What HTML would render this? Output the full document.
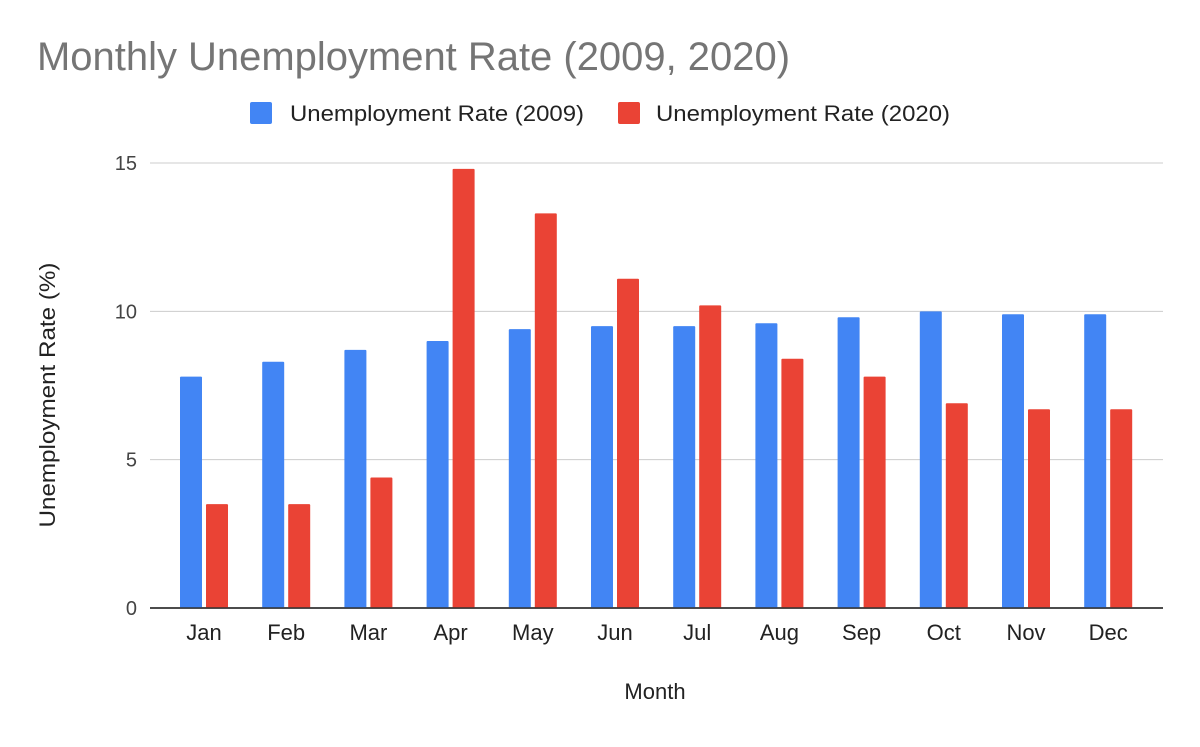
<!DOCTYPE html>
<html><head><meta charset="utf-8"><style>
body{margin:0;background:#fff;font-family:"Liberation Sans",Arial,sans-serif}
svg text{font-family:"Liberation Sans",Arial,sans-serif}
</style></head><body>
<svg id="c" width="1200" height="742" viewBox="0 0 1200 742">
<rect width="1200" height="742" fill="#fff"/>
<text x="37" y="70" font-size="40" textLength="753" lengthAdjust="spacingAndGlyphs" fill="#757575">Monthly Unemployment Rate (2009, 2020)</text>
<g>
<rect x="250" y="102" width="22" height="22" rx="2" fill="#4285f4"/>
<text x="290" y="121" font-size="22" textLength="294" lengthAdjust="spacingAndGlyphs" fill="#222">Unemployment Rate (2009)</text>
<rect x="618" y="102" width="22" height="22" rx="2" fill="#ea4335"/>
<text x="656" y="121" font-size="22" textLength="294" lengthAdjust="spacingAndGlyphs" fill="#222">Unemployment Rate (2020)</text>
</g>
<g id="grid"></g><g id="bars"></g><g id="xl"></g>
<text x="655" y="699" font-size="22" text-anchor="middle" fill="#222">Month</text>
<text transform="translate(55,395) rotate(-90)" font-size="22" textLength="265" lengthAdjust="spacingAndGlyphs" text-anchor="middle" fill="#222">Unemployment Rate (%)</text>
</svg>
<script>
const months=["Jan","Feb","Mar","Apr","May","Jun","Jul","Aug","Sep","Oct","Nov","Dec"];
const rate2009=[7.8,8.3,8.7,9.0,9.4,9.5,9.5,9.6,9.8,10.0,9.9,9.9];
const rate2020=[3.5,3.5,4.4,14.8,13.3,11.1,10.2,8.4,7.8,6.9,6.7,6.7];
const yTicks=[0,5,10,15];
const NS="http://www.w3.org/2000/svg";
const y0=608,y15=163,yMax=15;
function yS(v){return y0-(v/yMax)*(y0-y15);}
const band=82.2,firstC=204,bw=22,gap=4;
function xC(i){return firstC+i*band;}
function mk(t,a,p){const e=document.createElementNS(NS,t);for(const k in a)e.setAttribute(k,a[k]);p.appendChild(e);return e;}
const g=document.getElementById('grid');
yTicks.forEach(t=>{
const l=mk('line',{x1:150,x2:1163,y1:yS(t),y2:yS(t),stroke:t===0?'#333':'#ccc','stroke-width':t===0?1.5:1},g);


const tx=mk('text',{x:137,y:yS(t)+7,'font-size':20,'text-anchor':'end',fill:'#444'},g);
tx.textContent=t;


});
const b=document.getElementById('bars');
months.forEach((m,i)=>{
const r1=mk('rect',{x:xC(i)-gap/2-bw,y:yS(rate2009[i]),width:bw,height:y0-yS(rate2009[i]),fill:'#4285f4',rx:1},b);


const r2=mk('rect',{x:xC(i)+gap/2,y:yS(rate2020[i]),width:bw,height:y0-yS(rate2020[i]),fill:'#ea4335',rx:1},b);


const tx=mk('text',{x:xC(i),y:640,'font-size':22,'text-anchor':'middle',fill:'#222'},document.getElementById('xl'));
tx.textContent=m;


});
const base=mk('line',{x1:150,x2:1163,y1:y0,y2:y0,stroke:'#333','stroke-width':1.5},b);


</script>
</body></html>
